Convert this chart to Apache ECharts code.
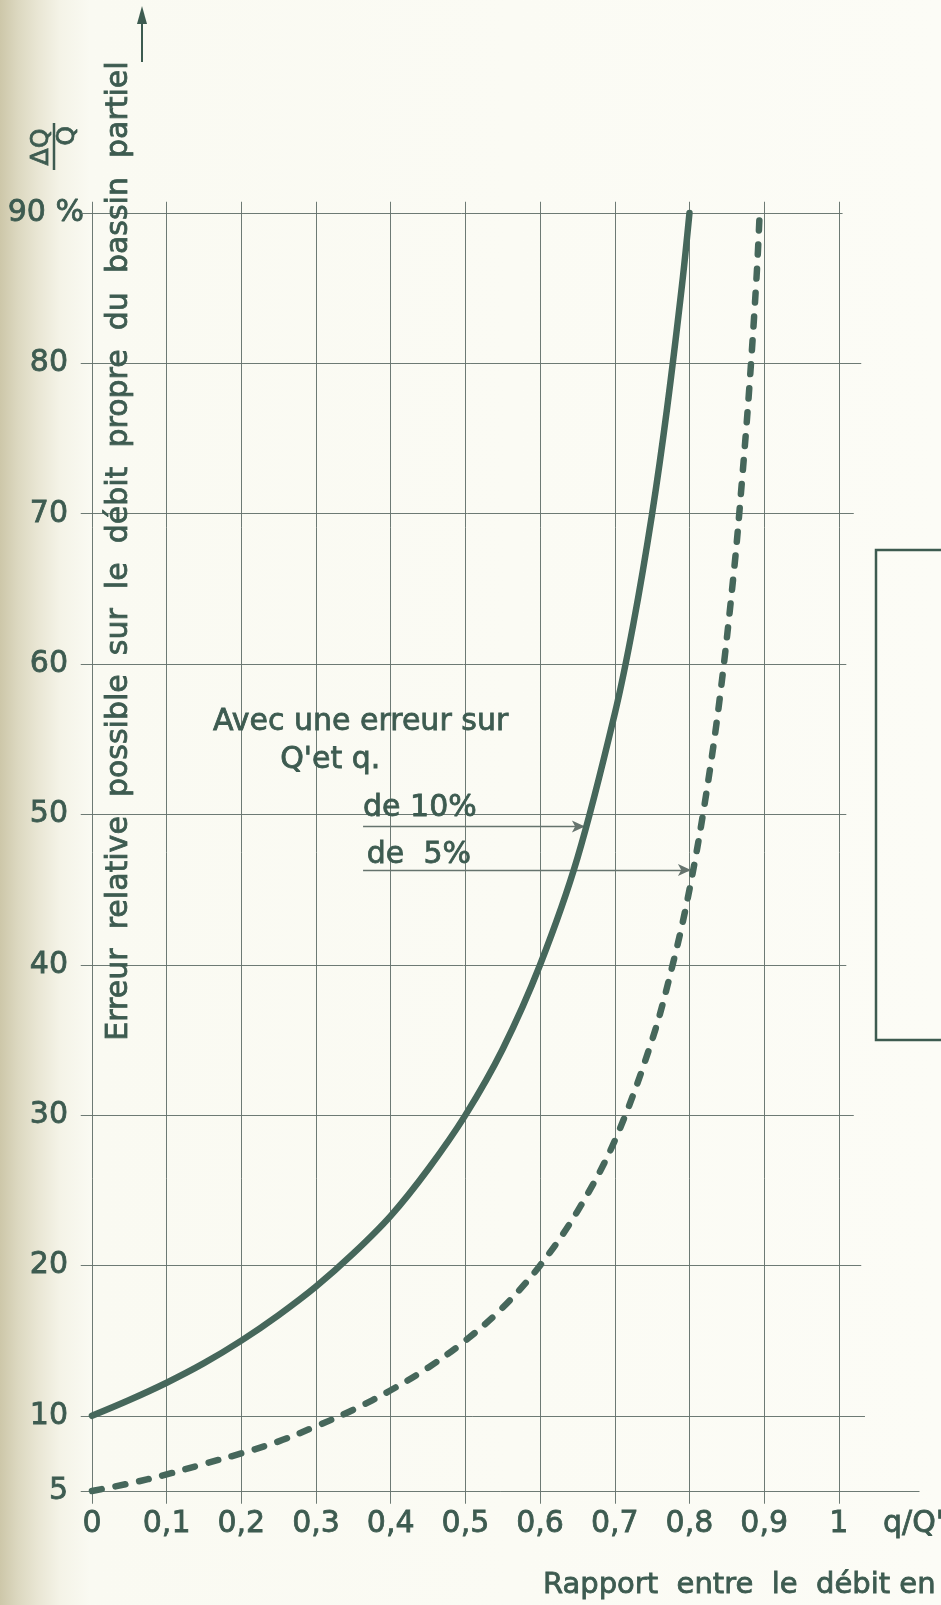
<!DOCTYPE html>
<html><head><meta charset="utf-8">
<script src="https://cdn.jsdelivr.net/npm/echarts@6/dist/echarts.min.js"></script>
<style>
html,body{margin:0;padding:0;width:941px;height:1605px;overflow:hidden;}
body{background:linear-gradient(to right,#cdc7a9 0px,#dcd8c0 18px,#e9e6d4 38px,#f4f3e7 60px,#fafaf2 90px,#fcfcf6 100%);}
#c{width:941px;height:1605px;}
</style></head><body><div id="c"></div>
<script>
// ---- data ----
const xTicks = [0, 0.1, 0.2, 0.3, 0.4, 0.5, 0.6, 0.7, 0.8, 0.9, 1];
const xTickLabels = ['0', '0,1', '0,2', '0,3', '0,4', '0,5', '0,6', '0,7', '0,8', '0,9', '1'];
const yTicks = [5, 10, 20, 30, 40, 50, 60, 70, 80, 90];
const yTickLabels = ['5', '10', '20', '30', '40', '50', '60', '70', '80', '90 %'];

// "Avec une erreur sur Q' et q de 10 %" (solid)
const solidX = [0, 0.05, 0.1, 0.15, 0.2, 0.25, 0.3, 0.35, 0.4, 0.45, 0.5, 0.55, 0.6, 0.65, 0.7, 0.725, 0.75, 0.77, 0.79, 0.8];
const solidY = [10, 11.05, 12.2, 13.5, 15, 16.7, 18.6, 20.8, 23.3, 26.4, 30, 34.4, 40, 47.1, 56.7, 62.7, 70, 77, 85.2, 90];
// "... de 5 %" (dashed)
const dashedX = [0, 0.05, 0.1, 0.15, 0.2, 0.25, 0.3, 0.35, 0.4, 0.45, 0.5, 0.55, 0.6, 0.65, 0.7, 0.75, 0.78, 0.8, 0.82, 0.84, 0.86, 0.87, 0.88, 0.89, 0.894];
const dashedY = [5, 5.5, 6.1, 6.8, 7.5, 8.3, 9.3, 10.4, 11.7, 13.2, 15, 17.2, 20, 23.6, 28.3, 35, 40.5, 45, 50.6, 57.5, 66.4, 72, 78.3, 85.9, 90];

// annotation arrows (data coords): start x, tip x, level y
const arrow10 = [0.363, 0.66, 49.2];
const arrow5 = [0.363, 0.802, 46.3];

const annTexts = ['Avec une erreur sur', "Q'et q.", 'de 10%', 'de  5%'];
const annAt = [[0.162, 56.1], [0.252, 53.6], [0.363, 50.4], [0.368, 47.3]];

// ---- layout / style ----
const INK = '#3d5b50';
const CURVE = '#46675b';
const GRIDC = '#65736d';
const FONT = "'DejaVu Sans', 'Liberation Sans', sans-serif";
const X_MIN = -0.016, X_MAX = 1.11, Y_MIN = 4.1, Y_MAX = 90.8;
const vLineFrom = 4.15, vLineTo = 90.75, hLineFrom = -0.015;
const hLineEnd = [1.108, 1.035, 1.03, 1.02, 1.01, 1.01, 1.01, 1.02, 1.03, 1.005];

function lab(ticks, labels, v) {
  for (let i = 0; i < ticks.length; i++) if (Math.abs(ticks[i] - v) < 1e-6) return labels[i];
  return '';
}
const zip = (xs, ys) => xs.map((x, i) => [x, ys[i]]);

const gridLines = [];
xTicks.forEach(x => gridLines.push([{coord: [x, vLineFrom]}, {coord: [x, vLineTo]}]));
yTicks.forEach((y, i) => gridLines.push([{coord: [hLineFrom, y]}, {coord: [hLineEnd[i], y]}]));

const chart = echarts.init(document.getElementById('c'), null, {renderer: 'canvas'});
const txt = {color: INK, fontFamily: FONT, fontSize: 30, textBorderColor: INK, textBorderWidth: 0.8};

chart.setOption({
  animation: false,
  backgroundColor: 'transparent',
  grid: {left: 80, right: 20, top: 201, bottom: 100.5, containLabel: false, outerBoundsMode: 'none'},
  xAxis: {
    type: 'value', min: X_MIN, max: X_MAX,
    axisLine: {show: false}, axisTick: {show: false}, splitLine: {show: false},
    axisLabel: Object.assign({customValues: xTicks, margin: 5, formatter: v => lab(xTicks, xTickLabels, v)}, txt)
  },
  yAxis: {
    type: 'value', min: Y_MIN, max: Y_MAX,
    axisLine: {show: false}, axisTick: {show: false}, splitLine: {show: false},
    axisLabel: Object.assign({
      customValues: yTicks, margin: -4,
      formatter: v => { const s = lab(yTicks, yTickLabels, v); if (!s) return ''; return s.indexOf('%') >= 0 ? '{p|' + s + '}' : '{n|' + s + '}'; },
      rich: {n: Object.assign({padding: [0, 16, 0, 0]}, txt), p: Object.assign({padding: [0, 0, 0, 0]}, txt)}
    }, txt)
  },
  series: [
    {
      type: 'line', data: [[0, 5]], showSymbol: false, silent: true, lineStyle: {opacity: 0}, z: 1,
      markLine: {silent: true, symbol: ['none', 'none'], label: {show: false}, animation: false,
        lineStyle: {color: GRIDC, width: 1, type: 'solid', opacity: 0.95}, data: gridLines}
    },
    {
      name: '10%', type: 'line', data: zip(solidX, solidY), showSymbol: false, smooth: 0.35, z: 5,
      lineStyle: {color: CURVE, width: 6.5, cap: 'round', join: 'round'}
    },
    {
      name: '5%', type: 'line', data: zip(dashedX, dashedY), showSymbol: false, smooth: 0.35, z: 5,
      lineStyle: {color: CURVE, width: 6.5, type: [10, 14], cap: 'round', join: 'round'}
    },
    {
      type: 'line', data: [[0, 5]], showSymbol: false, silent: true, lineStyle: {opacity: 0}, z: 4,
      markLine: {silent: true, symbol: ['none', 'arrow'], symbolSize: [9, 13], label: {show: false}, animation: false,
        lineStyle: {color: GRIDC, width: 1.3, type: 'solid'},
        data: [
          [{coord: [arrow10[0], arrow10[2]]}, {coord: [arrow10[1], arrow10[2]]}],
          [{coord: [arrow5[0], arrow5[2]]}, {coord: [arrow5[1], arrow5[2]]}]
        ]}
    }
  ]
});

const px = p => chart.convertToPixel({gridIndex: 0}, p);
const tstyle = (t, extra) => Object.assign({text: t, fill: INK, font: '30px ' + FONT, stroke: INK, lineWidth: 0.8}, extra || {});
const graphics = [];
annTexts.forEach((t, i) => {
  const p = px(annAt[i]);
  graphics.push({type: 'text', x: p[0], y: p[1], z: 10, style: tstyle(t, {align: 'left', verticalAlign: 'middle'})});
});
// axis name q/Q'
graphics.push({type: 'text', x: 883, y: 1524, z: 10, style: tstyle("q/Q'", {align: 'left', verticalAlign: 'middle'})});
// bottom title (cut off by the page edge as in the scan)
graphics.push({type: 'text', x: 543, y: 1585, z: 10, style: tstyle('Rapport  entre  le  débit en', {align: 'left', verticalAlign: 'middle', font: '29px ' + FONT})});
// y-axis title, rotated
graphics.push({type: 'text', x: 119, y: 551, rotation: Math.PI / 2, z: 10,
  style: tstyle('Erreur  relative  possible  sur  le  débit  propre  du  bassin  partiel', {align: 'center', verticalAlign: 'middle', font: '30px ' + FONT})});
// arrow after the title
graphics.push({type: 'line', z: 10, shape: {x1: 142, y1: 62, x2: 142, y2: 14}, style: {stroke: INK, lineWidth: 2}});
graphics.push({type: 'polygon', z: 10, shape: {points: [[142, 6], [137, 24], [147, 24]]}, style: {fill: INK}});
// ΔQ / Q fraction, rotated
graphics.push({type: 'text', x: 41, y: 147, rotation: Math.PI / 2, z: 10, style: tstyle('ΔQ', {align: 'center', verticalAlign: 'middle', font: '25px ' + FONT})});
graphics.push({type: 'line', z: 10, shape: {x1: 54, y1: 123, x2: 54, y2: 170}, style: {stroke: INK, lineWidth: 2.5}});
graphics.push({type: 'text', x: 67, y: 136, rotation: Math.PI / 2, z: 10, style: tstyle('Q', {align: 'center', verticalAlign: 'middle', font: '25px ' + FONT})});
// neighbouring frame cut by the scan
graphics.push({type: 'rect', z: 10, shape: {x: 876, y: 550, width: 120, height: 490}, style: {fill: 'none', stroke: INK, lineWidth: 2.5}});
chart.setOption({graphic: graphics});
</script></body></html>
